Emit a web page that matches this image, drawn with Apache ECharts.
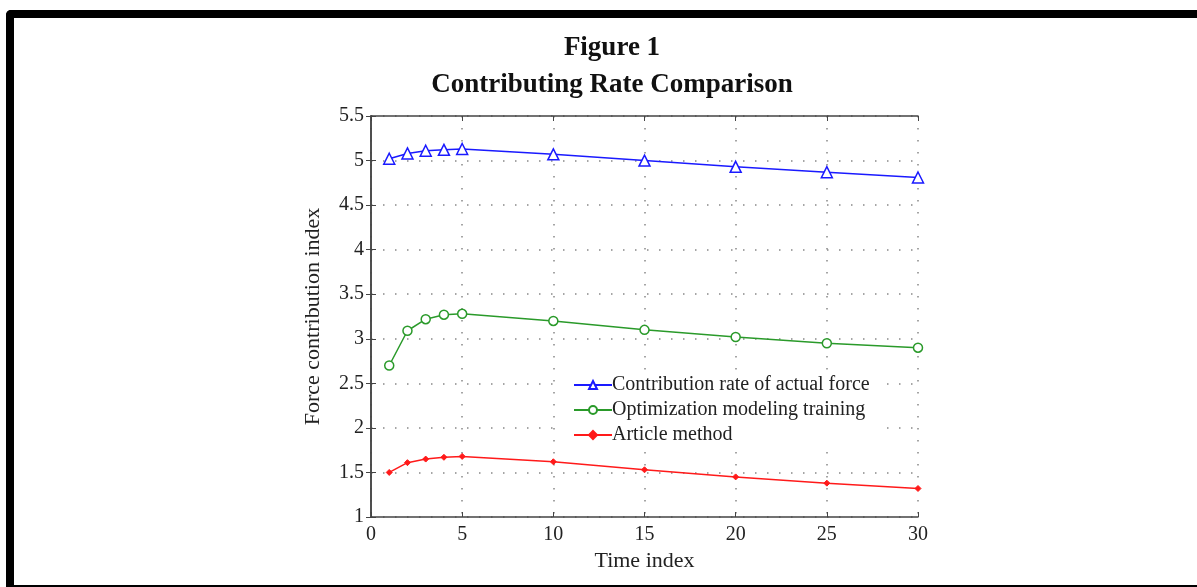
<!DOCTYPE html>
<html>
<head>
<meta charset="utf-8">
<script src="https://cdn.jsdelivr.net/npm/echarts@6/dist/echarts.min.js"></script>
<style>
  html, body { margin: 0; padding: 0; background: #fff; }
  #chart { width: 1197px; height: 587px; }
</style>
</head>
<body>
<div id="chart"></div>
<script>
// time index points and the three series
var timeIndex = [1, 2, 3, 4, 5, 10, 15, 20, 25, 30]
var actualForce = [5.02, 5.08, 5.11, 5.12, 5.13, 5.07, 5.00, 4.93, 4.87, 4.81]
var optimization = [2.70, 3.09, 3.22, 3.27, 3.28, 3.20, 3.10, 3.02, 2.95, 2.90]
var articleMethod = [1.50, 1.61, 1.65, 1.67, 1.68, 1.62, 1.53, 1.45, 1.38, 1.32]
var seriesNames = ['Contribution rate of actual force', 'Optimization modeling training', 'Article method']

function pairs(ys) {
    return timeIndex.map(function (x, i) { return [x, ys[i]] })
}

var font = 'Liberation Serif'
var dotted = { show: true, lineStyle: { color: '#888', width: 1.5, type: [1.5, 10.5] } }

var chart = echarts.init(document.getElementById('chart'))
chart.setOption({
    animation: false,
    title: {
        text: 'Figure 1\nContributing Rate Comparison',
        left: 607,
        textAlign: 'center',
        top: 25,
        textStyle: { fontFamily: font, fontWeight: 'bold', fontSize: 27, lineHeight: 37, color: '#111' }
    },
    graphic: [
        { type: 'rect', shape: { x: 6, y: 10, width: 1191, height: 8, r: [5, 0, 0, 0] }, style: { fill: '#000' } },
        { type: 'rect', shape: { x: 6, y: 10, width: 8, height: 577, r: [5, 0, 0, 0] }, style: { fill: '#000' } },
        { type: 'rect', shape: { x: 14, y: 585, width: 1183, height: 2 }, style: { fill: '#000' } }
    ],
    grid: { left: 371, right: 279, top: 116, bottom: 70 },
    legend: {
        orient: 'vertical',
        left: 563,
        top: 371,
        padding: [4, 10, 4, 10],
        backgroundColor: '#fff',
        itemWidth: 38,
        itemHeight: 10,
        itemGap: 5,
        data: seriesNames,
        textStyle: { fontFamily: font, fontSize: 20, color: '#222', padding: [0, 0, 0, -5] }
    },
    xAxis: [{
        type: 'value', min: 0, max: 30, interval: 5,
        name: 'Time index', nameLocation: 'middle', nameGap: 28,
        nameTextStyle: { fontFamily: font, fontSize: 22, color: '#222' },
        axisLine: { show: true, lineStyle: { color: '#444', width: 1.5 } },
        axisTick: { show: true, inside: true, length: 5, lineStyle: { color: '#444' } },
        axisLabel: { fontFamily: font, fontSize: 20, color: '#222', margin: 8 },
        splitLine: dotted
    }, {
        type: 'value', min: 0, max: 30, interval: 5, position: 'top',
        axisLine: { show: true, lineStyle: { color: '#444', width: 1.5 } },
        axisTick: { show: true, inside: true, length: 5, lineStyle: { color: '#444' } },
        axisLabel: { show: false },
        splitLine: { show: false }
    }],
    yAxis: [{
        type: 'value', min: 1, max: 5.5, interval: 0.5,
        name: 'Force contribution index', nameLocation: 'middle', nameGap: 47,
        nameTextStyle: { fontFamily: font, fontSize: 22, color: '#222' },
        axisLine: { show: true, lineStyle: { color: '#444', width: 1.5 } },
        axisTick: { show: true, inside: true, length: 5, lineStyle: { color: '#444' } },
        axisLabel: { fontFamily: font, fontSize: 20, color: '#222', margin: 7 },
        splitLine: dotted
    }, {
        type: 'value', min: 1, max: 5.5, interval: 0.5, position: 'right',
        axisLine: { show: true, lineStyle: { color: '#444', width: 1.5 } },
        axisTick: { show: true, inside: true, length: 5, lineStyle: { color: '#444' } },
        axisLabel: { show: false },
        splitLine: { show: false }
    }],
    series: [{
        name: seriesNames[0],
        type: 'line',
        data: pairs(actualForce),
        symbol: 'triangle',
        symbolSize: 11,
        itemStyle: { color: '#fff', borderColor: '#1a1aff', borderWidth: 1.5 },
        lineStyle: { color: '#1a1aff', width: 1.5 }
    }, {
        name: seriesNames[1],
        type: 'line',
        data: pairs(optimization),
        symbol: 'circle',
        symbolSize: 9,
        itemStyle: { color: '#fff', borderColor: '#2a9a2a', borderWidth: 1.5 },
        lineStyle: { color: '#2a9a2a', width: 1.5 }
    }, {
        name: seriesNames[2],
        type: 'line',
        data: pairs(articleMethod),
        symbol: 'diamond',
        symbolSize: 6,
        itemStyle: { color: '#ff1a1a', borderColor: '#ff1a1a', borderWidth: 1 },
        lineStyle: { color: '#ff1a1a', width: 1.5 }
    }]
})
</script>
</body>
</html>
